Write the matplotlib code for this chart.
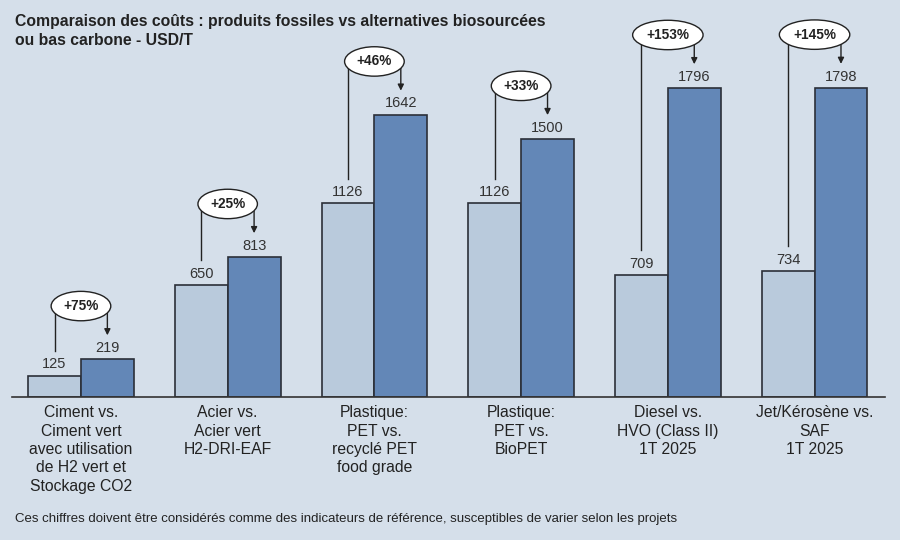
import numpy as np
import matplotlib.pyplot as plt

plt.rcParams['font.family'] = ['Liberation Sans', 'DejaVu Sans']

categories = [
    "Ciment vs.\nCiment vert\navec utilisation\nde H2 vert et\nStockage CO2",
    "Acier vs.\nAcier vert\nH2-DRI-EAF",
    "Plastique:\nPET vs.\nrecyclé PET\nfood grade",
    "Plastique:\nPET vs.\nBioPET",
    "Diesel vs.\nHVO (Class II)\n1T 2025",
    "Jet/Kérosène vs.\nSAF\n1T 2025",
]
fossil = [125, 650, 1126, 1126, 709, 734]
bio = [219, 813, 1642, 1500, 1796, 1798]

title = "Comparaison des coûts : produits fossiles vs alternatives biosourcées\nou bas carbone - USD/T"
footnote = "Ces chiffres doivent être considérés comme des indicateurs de référence, susceptibles de varier selon les projets"

bg = '#d5dfea'
c_light = '#b9cadc'
c_dark = '#6387b7'
edge = '#2b2f38'

fig = plt.figure(figsize=(9, 5.4), dpi=100)
fig.patch.set_facecolor(bg)
ax = fig.add_axes([12 / 900, 1 - 397 / 540, 873 / 900, 377 / 540])
ax.set_facecolor(bg)

x = np.arange(len(categories))
w = 0.36
ax.bar(x - w / 2, fossil, w, color=c_light, edgecolor=edge, linewidth=1.2, zorder=2)
ax.bar(x + w / 2, bio, w, color=c_dark, edgecolor=edge, linewidth=1.2, zorder=2)

ax.set_xlim(-0.47, 5.48)
ax.set_ylim(0, 377 / 0.1719)

for s in ['top', 'right', 'left']:
    ax.spines[s].set_visible(False)
ax.spines['bottom'].set_color('#333333')
ax.spines['bottom'].set_linewidth(1.2)
ax.set_yticks([])
ax.set_xticks(x)
ax.set_xticklabels(categories, fontsize=11.3, color='#222222', linespacing=1.28)
ax.tick_params(axis='x', length=0, pad=6)

for i in range(len(categories)):
    xl = x[i] - w / 2
    xr = x[i] + w / 2
    ax.text(xl, fossil[i] + 25, str(fossil[i]), ha='center', va='bottom',
            fontsize=10.5, color='#333333')
    ax.text(xr, bio[i] + 25, str(bio[i]), ha='center', va='bottom',
            fontsize=10.5, color='#333333')

    ey = bio[i] + 310
    pct = round((bio[i] / fossil[i] - 1) * 100)
    ax.plot([xl, xl], [fossil[i] + 145, ey], color='#222222', lw=1, zorder=3)
    ax.plot([xl, xr], [ey, ey], color='#222222', lw=1, zorder=3)
    ax.annotate('', xy=(xr, bio[i] + 140), xytext=(xr, ey),
                arrowprops=dict(arrowstyle='-|>', color='#222222', lw=1,
                                mutation_scale=9, shrinkA=0, shrinkB=0),
                zorder=3)
    ax.text(x[i], ey, f"+{pct}%", ha='center', va='center', fontsize=9.8,
            fontweight='bold', color='#222222', zorder=5,
            bbox=dict(boxstyle='ellipse,pad=0.25', fc='white', ec='#222222', lw=1))

fig.text(15 / 900, 1 - 14 / 540, title, ha='left', va='top', fontsize=11.3,
         fontweight='bold', color='#222222', linespacing=1.3)
fig.text(15 / 900, 1 - 519 / 540, footnote, ha='left', va='center', fontsize=9.5,
         color='#222222')

fig.savefig('out.png', dpi=100, facecolor=bg)
